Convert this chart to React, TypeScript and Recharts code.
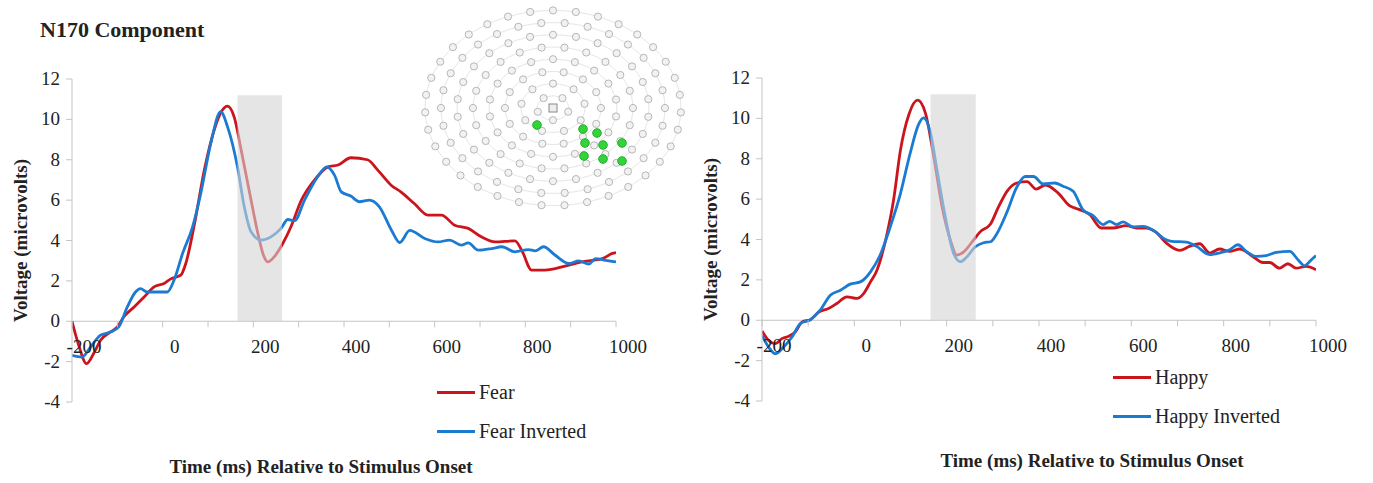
import React from "react";
import {
  LineChart,
  Line,
  XAxis,
  YAxis,
  ReferenceArea,
  ReferenceLine,
  Legend,
} from "recharts";

// time (ms), voltage (microvolts)
const fear: [number, number][] = [
  [-200, 0], [-185, -1.2], [-168, -2.1], [-150, -1.5], [-137, -0.94], [-115, -0.53],
  [-100, -0.28], [-86, 0.21], [-63, 0.71], [-41, 1.2], [-19, 1.7], [3, 1.87], [18, 2.1],
  [40, 2.28], [51, 2.86], [69, 4.68], [92, 7.5], [114, 9.5], [130, 10.4], [143, 10.66],
  [158, 10.1], [173, 8.5], [195, 6.0], [210, 4.35], [222, 3.3], [232, 2.94], [246, 3.19],
  [265, 3.85], [283, 4.68], [306, 6.0], [335, 7.0], [365, 7.65], [387, 7.74], [415, 8.1],
  [452, 8.0], [474, 7.5], [504, 6.74], [526, 6.4], [555, 5.83], [585, 5.26], [615, 5.26],
  [644, 4.76], [674, 4.6], [703, 4.18], [733, 3.93], [777, 3.98], [792, 3.52], [814, 2.53],
  [837, 2.53], [866, 2.61], [896, 2.78], [925, 2.94], [948, 3.02], [970, 3.1], [992, 3.36],
  [1000, 3.4],
];

const fearInverted: [number, number][] = [
  [-200, -1.69], [-178, -1.77], [-159, -1.27], [-137, -0.69], [-115, -0.53], [-97, -0.28],
  [-78, 0.71], [-60, 1.45], [-49, 1.62], [-34, 1.45], [-12, 1.45], [10, 1.45], [25, 2.03],
  [44, 3.36], [66, 4.68], [84, 6.33], [106, 8.8], [128, 10.38], [143, 9.64], [165, 7.65],
  [180, 5.67], [195, 4.43], [217, 4.02], [239, 4.18], [261, 4.6], [276, 5.04], [291, 4.98],
  [313, 6.0], [342, 7.16], [362, 7.65], [379, 7.24], [394, 6.41], [415, 6.2], [434, 5.92],
  [456, 6.0], [478, 5.67], [505, 4.5], [523, 3.9], [545, 4.5], [578, 4.1], [607, 3.93],
  [633, 4.02], [659, 3.77], [674, 3.88], [696, 3.52], [726, 3.6], [748, 3.69], [777, 3.44],
  [807, 3.55], [822, 3.49], [840, 3.69], [866, 3.27], [896, 2.86], [918, 2.99], [940, 2.83],
  [955, 3.1], [977, 3.02], [1000, 2.94],
];

const happy: [number, number][] = [
  [-200, -0.53], [-186, -0.99], [-171, -1.16], [-157, -0.91], [-142, -0.79], [-128, -0.58],
  [-113, -0.08], [-95, 0.03], [-77, 0.41], [-56, 0.58], [-38, 0.83], [-16, 1.16], [6, 1.08],
  [20, 1.32], [35, 1.9], [49, 2.48], [71, 4.3], [85, 5.96], [100, 8.44], [118, 10.18],
  [137, 10.9], [154, 10.26], [172, 8.1], [190, 5.63], [208, 3.97], [222, 3.23], [237, 3.39],
  [258, 3.97], [273, 4.39], [295, 4.77], [312, 5.6], [331, 6.4], [352, 6.8], [374, 6.87],
  [394, 6.5], [414, 6.7], [441, 6.31], [466, 5.68], [488, 5.48], [510, 5.23], [535, 4.57],
  [560, 4.57], [589, 4.69], [611, 4.57], [632, 4.57], [654, 4.35], [676, 3.82], [705, 3.46],
  [726, 3.66], [748, 3.79], [770, 3.33], [791, 3.53], [813, 3.41], [835, 3.53], [863, 3.16],
  [885, 2.86], [900, 2.86], [921, 2.58], [939, 2.8], [957, 2.58], [979, 2.67], [1000, 2.5],
];

const happyInverted: [number, number][] = [
  [-200, -0.75], [-186, -1.32], [-171, -1.66], [-153, -1.32], [-135, -0.83], [-117, -0.17],
  [-95, 0.03], [-74, 0.5], [-52, 1.24], [-30, 1.49], [-9, 1.79], [13, 1.9], [35, 2.4],
  [56, 3.23], [78, 4.64], [100, 6.29], [121, 8.28], [139, 9.69], [150, 10.02], [165, 9.27],
  [179, 7.45], [197, 5.13], [215, 3.31], [230, 2.9], [244, 3.15], [262, 3.64], [280, 3.84],
  [295, 3.89], [309, 4.3], [331, 5.38], [352, 6.6], [370, 7.12], [388, 7.12], [409, 6.75],
  [434, 6.8], [452, 6.64], [474, 6.39], [495, 5.48], [517, 5.18], [539, 4.74], [553, 4.9],
  [568, 4.74], [582, 4.87], [604, 4.62], [625, 4.65], [651, 4.4], [669, 4.07], [687, 3.91],
  [719, 3.87], [741, 3.66], [770, 3.25], [791, 3.33], [813, 3.49], [831, 3.74], [849, 3.41],
  [871, 3.16], [892, 3.2], [914, 3.36], [943, 3.41], [961, 3.0], [975, 2.7], [990, 3.0],
  [1000, 3.2],
];

const timeTicks = [-200, -100, 0, 100, 200, 300, 400, 500, 600, 700, 800, 900, 1000];
const voltTicks = [-4, -2, 0, 2, 4, 6, 8, 10, 12];
const n170Window = { from: 165, to: 263, top: 11.2 };

// green electrodes picked out on the sensor map
const selectedSensors: [number, number][] = [
  [537, 125], [583, 129], [597, 133], [585, 143], [603, 145], [622, 143],
  [584, 156], [603, 159], [622, 161],
];

const RED = "#cc141c";
const BLUE = "#1b7bd2";
const AXIS = "#c4c4c4";
const INK = "#222";
const SERIF = "Liberation Serif, Times New Roman, serif";

const Y_MIN = -4;
const Y_MAX = 12;
const PLOT_TOP = 79;
const PLOT_BOTTOM = 402;
const PLOT_H = PLOT_BOTTOM - PLOT_TOP;

const toRows = (pts: [number, number][]) => pts.map(([t, v]) => ({ t, v }));

function TimeTick(props: any) {
  const { x, y, payload } = props;
  const zeroY = y - (PLOT_H * (0 - Y_MIN)) / (Y_MAX - Y_MIN);
  return (
    <g>
      <line x1={x} x2={x} y1={zeroY} y2={zeroY + 6} stroke={AXIS} />
      {payload.value % 200 === 0 && (
        <text
          x={x + 12}
          y={zeroY + 32}
          textAnchor="middle"
          style={{ fontSize: 19, fontFamily: SERIF, fill: INK }}
        >
          {payload.value}
        </text>
      )}
    </g>
  );
}

function VoltTick(props: any) {
  const { x, y, payload } = props;
  return (
    <text
      x={x}
      y={y + 6}
      textAnchor="end"
      style={{ fontSize: 19, fontFamily: SERIF, fill: INK }}
    >
      {payload.value}
    </text>
  );
}

function LegendBox(props: any) {
  return (
    <div>
      {props.payload.map((p: any) => (
        <div
          key={p.value}
          style={{ display: "flex", alignItems: "center", height: 39 }}
        >
          <span style={{ width: 38, height: 3, background: p.color }} />
          <span
            style={{
              marginLeft: 4,
              fontFamily: SERIF,
              fontSize: 20,
              color: INK,
              whiteSpace: "nowrap",
            }}
          >
            {p.value}
          </span>
        </div>
      ))}
    </div>
  );
}

function ErpPanel({
  left,
  width,
  right,
  top,
  upright,
  inverted,
  names,
  legendAt,
}: {
  left: number;
  width: number;
  right: number;
  top: number;
  upright: [number, number][];
  inverted: [number, number][];
  names: [string, string];
  legendAt: [number, number];
}) {
  return (
    <div style={{ position: "absolute", left, top: 0 }}>
      <LineChart
        width={width}
        height={483}
        margin={{ top, right, bottom: 483 - PLOT_BOTTOM - (top - PLOT_TOP) - 30, left: 12 }}
      >
        <XAxis
          dataKey="t"
          type="number"
          domain={[-200, 1000]}
          ticks={timeTicks}
          interval={0}
          allowDataOverflow
          axisLine={false}
          tickLine={false}
          tickSize={0}
          tickMargin={0}
          height={30}
          tick={(p: any) => <TimeTick {...p} />}
        />
        <YAxis
          type="number"
          domain={[Y_MIN, Y_MAX]}
          ticks={voltTicks}
          interval={0}
          width={60}
          stroke={AXIS}
          tickSize={6}
          tickMargin={6}
          tick={(p: any) => <VoltTick {...p} />}
          label={{
            value: "Voltage (microvolts)",
            angle: -90,
            position: "insideLeft",
            offset: 8,
            style: {
              textAnchor: "middle",
              fontFamily: SERIF,
              fontWeight: 700,
              fontSize: 19,
              fill: INK,
            },
          }}
        />
        <ReferenceLine y={0} stroke={AXIS} />
        <Line
          data={toRows(upright)}
          dataKey="v"
          name={names[0]}
          type="monotone"
          stroke={RED}
          strokeWidth={2.8}
          dot={false}
          isAnimationActive={false}
        />
        <Line
          data={toRows(inverted)}
          dataKey="v"
          name={names[1]}
          type="monotone"
          stroke={BLUE}
          strokeWidth={2.8}
          dot={false}
          isAnimationActive={false}
        />
        <ReferenceArea
          x1={n170Window.from}
          x2={n170Window.to}
          y1={0}
          y2={n170Window.top}
          fill="#d4d4d4"
          fillOpacity={0.6}
          stroke="none"
          zIndex={1000}
        />
        <Legend
          layout="vertical"
          align="center"
          verticalAlign="middle"
          content={(p: any) => <LegendBox {...p} />}
          wrapperStyle={{ left: legendAt[0], top: legendAt[1], width: 200 }}
        />
      </LineChart>
    </div>
  );
}

function SensorMap() {
  const cx = 553;
  const cy = 108;
  const rings = [1, 2, 3, 4, 5, 6, 7, 8];
  return (
    <g>
      {rings.map((k) => (
        <ellipse
          key={"r" + k}
          cx={cx}
          cy={cy}
          rx={16 * k}
          ry={12.2 * k}
          fill="none"
          stroke="#e6e6e6"
        />
      ))}
      {rings.map((k) => {
        const n = Math.round(4.2 * k) + 1;
        return Array.from({ length: n }, (_, i) => {
          const a = (2 * Math.PI * i) / n + (k % 2 ? Math.PI / n : 0);
          return (
            <circle
              key={k + "-" + i}
              cx={cx + 16 * k * Math.sin(a)}
              cy={cy - 12.2 * k * Math.cos(a)}
              r={3.6}
              fill="#f2f2f2"
              stroke="#b0b0b0"
              strokeWidth={0.9}
            />
          );
        });
      })}
      <rect x={cx - 4} y={cy - 4} width={8} height={8} fill="#eee" stroke="#888" />
      {selectedSensors.map(([x, y]) => (
        <circle key={x + "," + y} cx={x} cy={y} r={4.3} fill="#34d33a" stroke="#22b02a" />
      ))}
    </g>
  );
}

export default function App() {
  return (
    <div
      style={{
        position: "absolute",
        left: 0,
        top: 0,
        width: 1373,
        height: 483,
        background: "#fff",
        overflow: "hidden",
      }}
    >
      <ErpPanel
        left={0}
        width={680}
        right={64}
        top={79}
        upright={fear}
        inverted={fearInverted}
        names={["Fear", "Fear Inverted"]}
        legendAt={[437, 373]}
      />
      <ErpPanel
        left={690}
        width={683}
        right={57}
        top={78}
        upright={happy}
        inverted={happyInverted}
        names={["Happy", "Happy Inverted"]}
        legendAt={[423, 358]}
      />
      <svg
        width={1373}
        height={483}
        style={{ position: "absolute", left: 0, top: 0, pointerEvents: "none" }}
      >
        <text
          x={40}
          y={37}
          style={{ fontFamily: SERIF, fontWeight: 700, fontSize: 22, fill: INK }}
        >
          N170 Component
        </text>
        <text
          x={321}
          y={473}
          textAnchor="middle"
          style={{ fontFamily: SERIF, fontWeight: 700, fontSize: 19, fill: INK }}
        >
          Time (ms) Relative to Stimulus Onset
        </text>
        <text
          x={1092}
          y={467}
          textAnchor="middle"
          style={{ fontFamily: SERIF, fontWeight: 700, fontSize: 19, fill: INK }}
        >
          Time (ms) Relative to Stimulus Onset
        </text>
        <SensorMap />
      </svg>
    </div>
  );
}
